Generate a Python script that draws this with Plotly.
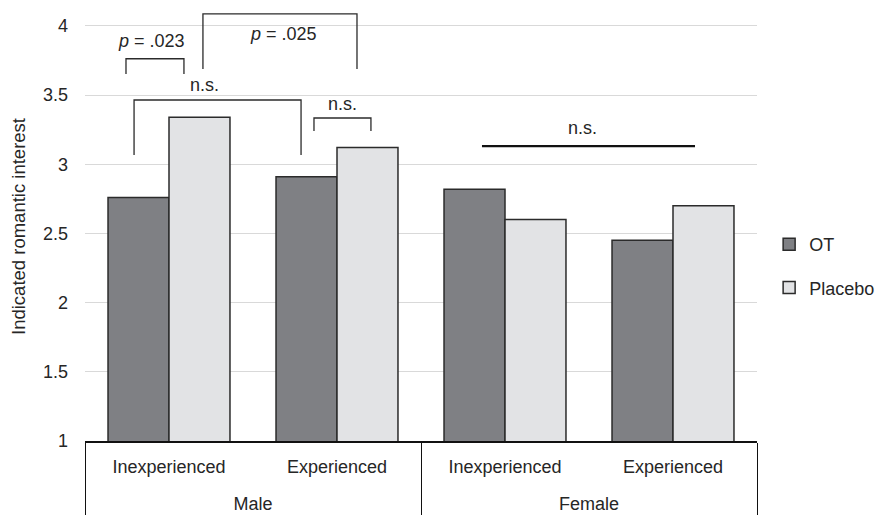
import plotly.graph_objects as go

groups = ["Male", "Male", "Female", "Female"]
experience = ["Inexperienced", "Experienced", "Inexperienced", "Experienced"]
ot_values = [2.76, 2.91, 2.82, 2.45]
placebo_values = [3.34, 3.12, 2.60, 2.70]
y_ticks = [1, 1.5, 2, 2.5, 3, 3.5, 4]
y_tick_labels = ["1", "1.5", "2", "2.5", "3", "3.5", "4"]

FONT = "Liberation Sans, Arial, sans-serif"
TXT = "#262626"
EDGE = "#2b2b2b"

# group labels pushed one line lower, as in the reference
group_labels = ["<br>" + g for g in groups]

fig = go.Figure()
fig.add_trace(go.Bar(
    x=[group_labels, experience], y=ot_values, name="OT",
    marker=dict(color="#7f8084", line=dict(color=EDGE, width=1.5)),
    legendgroup="a",
))
fig.add_trace(go.Bar(
    x=[group_labels, experience], y=placebo_values, name="Placebo",
    marker=dict(color="#e2e3e5", line=dict(color=EDGE, width=1.5)),
    legendgroup="b",
))

# significance brackets: (x0, x1, top, leg_bottom, label, label_x, label_y)
brackets = [
    (-0.256, 0.089, 3.762, 3.652, "<i>p</i> = .023", -0.107, 3.89),
    (0.202, 1.119, 4.087, 3.688, "<i>p</i> = .025", 0.679, 3.94),
    (-0.208, 0.786, 3.464, 3.066, "n.s.", 0.214, 3.572),
    (0.863, 1.202, 3.334, 3.240, "n.s.", 1.03, 3.435),
]
shapes = []
annotations = []
for x0, x1, top, bot, label, lx, ly in brackets:
    shapes.append(dict(
        type="path", xref="x", yref="y",
        path=f"M {x0},{bot} L {x0},{top} L {x1},{top} L {x1},{bot}",
        line=dict(color=EDGE, width=1.3),
    ))
    annotations.append(dict(
        x=lx, y=ly, xref="x", yref="y", text=label, showarrow=False,
        font=dict(family=FONT, size=18, color=TXT), yanchor="middle",
    ))

# female n.s. line
shapes.append(dict(type="line", xref="x", yref="y", x0=1.863, x1=3.131,
                   y0=3.131, y1=3.131, line=dict(color="#111111", width=2.2)))
annotations.append(dict(x=2.464, y=3.262, xref="x", yref="y", text="n.s.",
                        showarrow=False, font=dict(family=FONT, size=18, color=TXT),
                        yanchor="middle"))

fig.update_layout(
    width=876, height=519,
    margin=dict(l=85, r=119, t=12, b=78, autoexpand=False),
    paper_bgcolor="white", plot_bgcolor="white",
    font=dict(family=FONT, size=18, color=TXT),
    barmode="group", bargap=0.274, bargroupgap=0,
    showlegend=True,
    legend=dict(xref="container", yref="container", x=0.878, y=0.5645,
                xanchor="left", yanchor="top",
                font=dict(family=FONT, size=18, color=TXT),
                traceorder="grouped", tracegroupgap=17,
                itemwidth=30, bgcolor="rgba(0,0,0,0)"),
    shapes=shapes, annotations=annotations,
)
fig.update_xaxes(
    type="multicategory", automargin=False,
    showline=True, linecolor="#111111", linewidth=2,
    showgrid=False, ticks="",
    showdividers=True, dividercolor="#111111", dividerwidth=1,
    ticklabelstandoff=8,
    tickfont=dict(family=FONT, size=18, color=TXT),
)
fig.update_yaxes(
    range=[1, 4.1], automargin=False,
    tickvals=y_ticks, ticktext=y_tick_labels,
    showgrid=True, gridcolor="#d9d9d9", gridwidth=1.3,
    showline=False, zeroline=False, ticks="",
    ticklabelstandoff=16,
    tickfont=dict(family=FONT, size=18, color=TXT),
    title=dict(text="Indicated romantic interest", standoff=12,
               font=dict(family=FONT, size=18.5, color=TXT)),
)

fig.write_html("out.html", config={"displayModeBar": False},
               post_script="document.body.style.margin='0';")
